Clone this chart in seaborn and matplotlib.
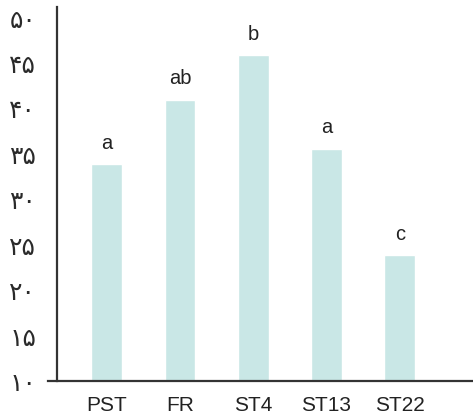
import matplotlib
matplotlib.use("Agg")
import matplotlib.pyplot as plt
import seaborn as sns
import pandas as pd

# values
treatments = ["PST", "FR", "ST4", "ST13", "ST22"]
means = [33.8, 40.9, 45.8, 35.5, 23.8]
groups = ["a", "ab", "b", "a", "c"]
y_ticks = [10, 15, 20, 25, 30, 35, 40, 45, 50]
y_labels = ["۱۰", "۱۵", "۲۰", "۲۵", "۳۰", "۳۵", "۴۰", "۴۵", "۵۰"]

sns.set_theme(style="white")
plt.rcParams["font.family"] = ["Liberation Sans", "DejaVu Sans"]

df = pd.DataFrame({"treatment": treatments, "mean": means})

fig = plt.figure(figsize=(4.73, 4.14), dpi=100)
ax = fig.add_axes([0.1015, 0.0773, 0.8985, 0.9034])

sns.barplot(data=df, x="treatment", y="mean", color="#c9e7e6",
            width=0.42, saturation=1, ax=ax)

# letters of significance above bars
for i, (m, g) in enumerate(zip(means, groups)):
    ax.annotate(g, (i, m), xytext=(0, 9), textcoords="offset points",
                ha="center", va="bottom", fontsize=14.5, color="#222222")

ax.set_ylim(10, 51.1)
ax.set_xlim(-0.80, 5.0)
ax.set_yticks(y_ticks, y_labels)
ax.tick_params(axis="y", length=0, pad=15, labelsize=18, labelcolor="#2a2a2a")
ax.tick_params(axis="x", length=0, pad=10, labelsize=15, labelcolor="#222222")
ax.set_xlabel("")
ax.set_ylabel("")

for s in ["top", "right"]:
    ax.spines[s].set_visible(False)
ax.spines["left"].set_position(("data", -0.676))
for s in ["left", "bottom"]:
    ax.spines[s].set_color("#333333")
    ax.spines[s].set_linewidth(1.6)

fig.savefig("out.png", dpi=100)
